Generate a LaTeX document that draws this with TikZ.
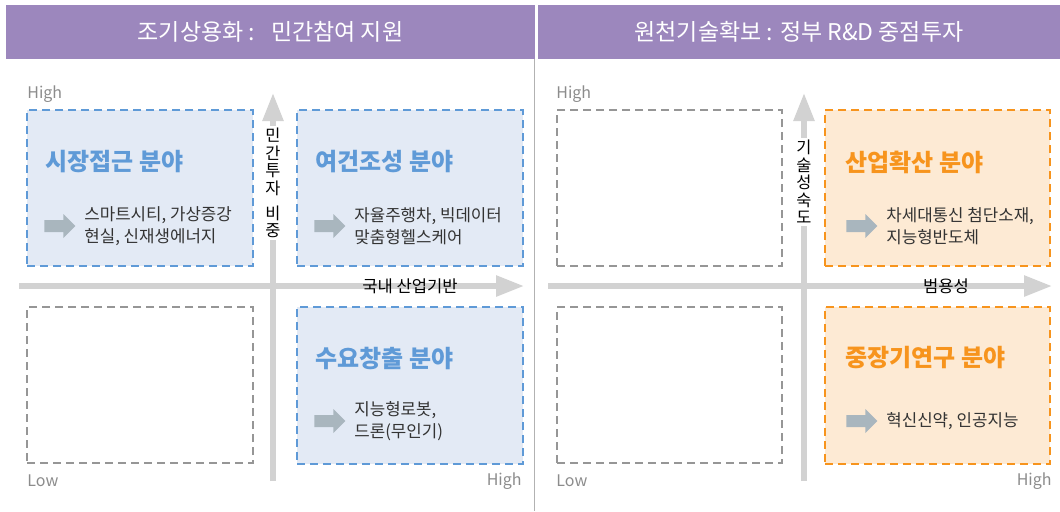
\documentclass[tikz,border=0pt]{standalone}
\usepackage{fontspec}
\setmainfont{Noto Sans CJK KR}
\usepackage{xcolor}
\usetikzlibrary{arrows.meta, positioning, shapes.arrows}
\definecolor{hdpurple}{HTML}{9C87BD}
\definecolor{bxblue}{HTML}{5F9AD7}
\definecolor{fillblue}{HTML}{E3EAF5}
\definecolor{bxorange}{HTML}{F7941D}
\definecolor{fillorange}{HTML}{FDEAD4}
\definecolor{bxgray}{HTML}{969696}
\definecolor{axgray}{HTML}{D2D2D2}
\definecolor{ptrgray}{HTML}{A9B6BE}
\definecolor{txtdark}{HTML}{333333}
\tikzset{
    hdr/.style     = {fill=hdpurple, inner sep=0pt, outer sep=0pt, minimum height=27pt,
                      text=white, font=\fontsize{11.5}{13}\selectfont},
    quad/.style    = {dash pattern=on 4pt off 2.5pt, line width=1.1pt, inner sep=0pt, outer sep=0pt,
                      minimum width=113pt, minimum height=78pt, anchor=north west},
    bluebox/.style = {quad, draw=bxblue, fill=fillblue},
    orgbox/.style  = {quad, draw=bxorange, fill=fillorange},
    graybox/.style = {quad, draw=bxgray, fill=white},
    btitle/.style  = {anchor=west, inner sep=0pt, font=\fontsize{12}{14}\selectfont\bfseries},
    items/.style   = {anchor=west, inner sep=0pt, align=left, text=txtdark,
                      font=\fontsize{8.4}{11}\selectfont},
    ptr/.style     = {single arrow, fill=ptrgray, inner sep=0pt, inner ysep=2.8pt,
                      minimum width=12pt, minimum height=15.5pt, single arrow head extend=3pt,
                      anchor=west},
    axis/.style    = {draw=axgray, line width=2.8pt, -{Triangle[length=14pt, width=10pt]}},
    vlabel/.style  = {fill=white, inner sep=1pt, align=center, text=black,
                      font=\fontsize{8.2}{8.7}\selectfont},
    axlabel/.style = {inner sep=0pt, text=black, font=\fontsize{8.3}{10}\selectfont},
    hilo/.style    = {inner sep=0pt, text=black!45, font=\fontsize{8}{10}\selectfont},
}

\begin{document}
\begin{tikzpicture}[x=0.5pt, y=-0.5pt]
    \useasboundingbox (0,0) rectangle (1060,511);
    % headers and divider
    \node[hdr, minimum width=264.5pt, anchor=north west] (hdL) at (6,5) {조기상용화 :\hspace{8pt}민간참여 지원};
    \node[hdr, minimum width=261pt, anchor=north west] (hdR) at (538,5) {원천기술확보 : 정부 R\&D 중점투자};
    \coordinate (divT) at (534.5,59);
    \coordinate (divB) at (534.5,511);
    \draw[black!30, line width=0.8pt] (divT) -- (divB);

    % left panel: axes
    \coordinate (lxL) at (19,286);   \coordinate (lxR) at (524,286);
    \coordinate (lyB) at (273,481);  \coordinate (lyT) at (273,93);
    \draw[axis] (lxL) -- (lxR);
    \draw[axis] (lyB) -- (lyT);
    \node[vlabel, anchor=north] (lyLab) at (273,126) {민\\간\\투\\자\\[4pt]비\\중};
    \node[axlabel] (lxLab) at (410,286) {국내 산업기반};
    \node[hilo, anchor=west] (lHi) at (27,94) {High};
    \node[hilo, anchor=west] (lLo) at (27,481) {Low};
    \node[hilo, anchor=east] (lHi2) at (522,481) {High};

    % left panel: quadrants
    \node[bluebox] (mkt) at (27,110) {};
    \node[bluebox] (env) at (297,110) {};
    \node[graybox] (lnone) at (27,307) {};
    \node[bluebox, minimum height=78.5pt] (dmd) at (297,307) {};
    \node[btitle, text=bxblue] (mktT) at (45,162) {시장접근 분야};
    \node[btitle, text=bxblue] (envT) at (315,162) {여건조성 분야};
    \node[btitle, text=bxblue] (dmdT) at (315,358) {수요창출 분야};
    \node[ptr] (mktP) at (44,226) {};
    \node[items, right=4pt of mktP.east, anchor=west] (mktI) {스마트시티, 가상증강\\현실, 신재생에너지};
    \node[ptr] (envP) at (314,226) {};
    \node[items, right=4pt of envP.east, anchor=west] (envI) {자율주행차, 빅데이터\\맞춤형헬스케어};
    \node[ptr] (dmdP) at (314,421) {};
    \node[items, right=4pt of dmdP.east, anchor=west] (dmdI) {지능형로봇,\\드론(무인기)};

    % right panel: axes
    \coordinate (rxL) at (548,286);  \coordinate (rxR) at (1052,286);
    \coordinate (ryB) at (804,481);  \coordinate (ryT) at (804,93);
    \draw[axis] (rxL) -- (rxR);
    \draw[axis] (ryB) -- (ryT);
    \node[vlabel, anchor=north] (ryLab) at (804,138) {기\\술\\성\\숙\\도};
    \node[axlabel] (rxLab) at (946,286) {범용성};
    \node[hilo, anchor=west] (rHi) at (556,94) {High};
    \node[hilo, anchor=west] (rLo) at (556,481) {Low};
    \node[hilo, anchor=east] (rHi2) at (1052,481) {High};

    % right panel: quadrants
    \node[graybox, minimum width=112.5pt] (rnone1) at (557,110) {};
    \node[orgbox, minimum width=112.5pt] (ind) at (825,110) {};
    \node[graybox, minimum width=112.5pt] (rnone2) at (557,307) {};
    \node[orgbox, minimum width=112.5pt, minimum height=78.5pt] (lng) at (825,307) {};
    \node[btitle, text=bxorange] (indT) at (845,162) {산업확산 분야};
    \node[btitle, text=bxorange] (lngT) at (845,358) {중장기연구 분야};
    \node[ptr] (indP) at (846,226) {};
    \node[items, right=4pt of indP.east, anchor=west] (indI) {차세대통신 첨단소재,\\지능형반도체};
    \node[ptr] (lngP) at (846,421) {};
    \node[items, right=4pt of lngP.east, anchor=west] (lngI) {혁신신약, 인공지능};
\end{tikzpicture}
\end{document}
